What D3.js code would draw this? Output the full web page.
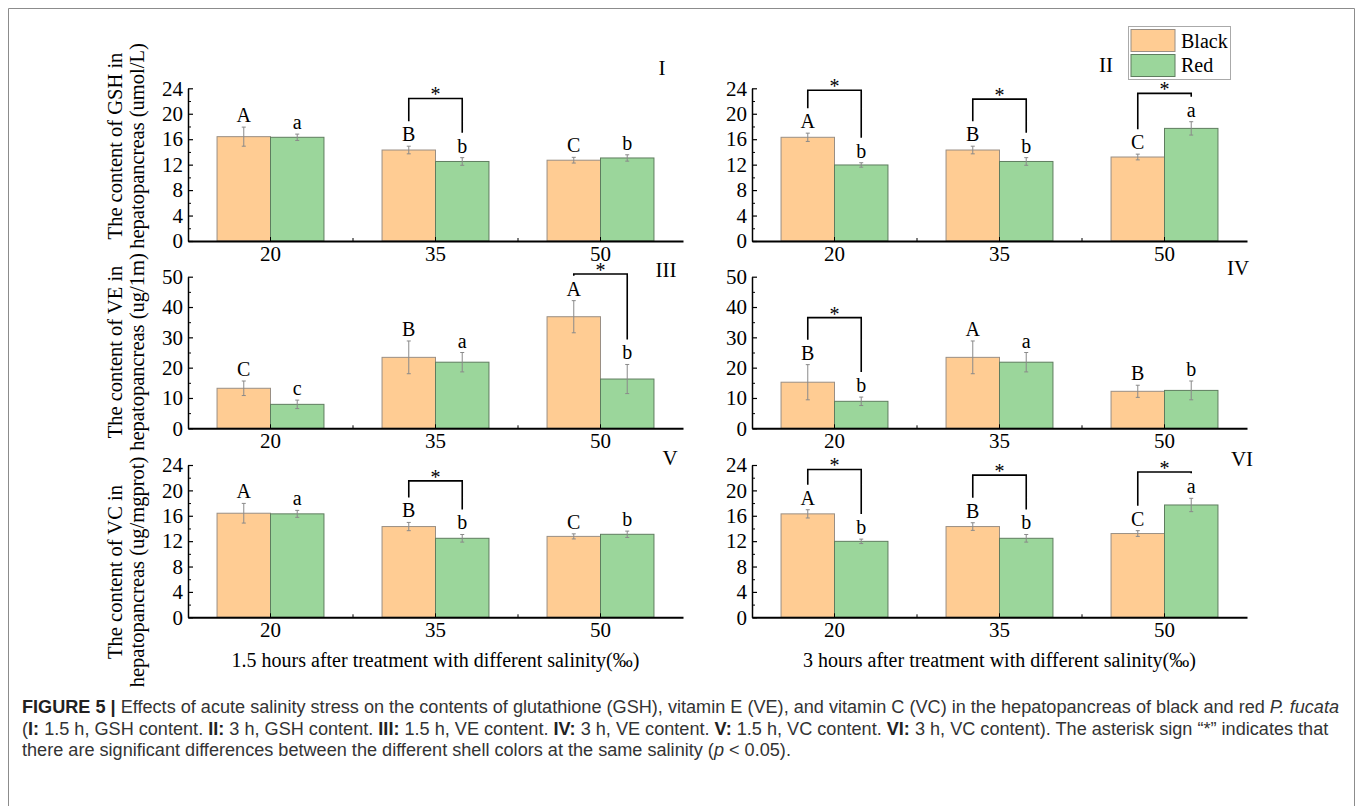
<!DOCTYPE html>
<html><head><meta charset="utf-8">
<script src="https://cdn.jsdelivr.net/npm/d3@7"></script>
<style>body{margin:0;background:#fff}</style>
</head><body>
<svg id="c" width="1358" height="806"></svg>
<script>
// ---------- DATA ----------
const categories = ["20", "35", "50"];
const seriesNames = ["Black", "Red"];
const gshTicks = [0, 4, 8, 12, 16, 20, 24];
const veTicks = [0, 10, 20, 30, 40, 50];

// I: 1.5 h GSH
const gsh15Black = [16.4, 14.3, 12.7];
const gsh15BlackErr = [1.5, 0.6, 0.45];
const gsh15Red = [16.3, 12.5, 13.05];
const gsh15RedErr = [0.5, 0.6, 0.5];
const gsh15BlackLetters = ["A", "B", "C"];
const gsh15RedLetters = ["a", "b", "b"];
const gsh15Sig = [{cat: "35", level: 22.4}];

// II: 3 h GSH
const gsh3Black = [16.3, 14.3, 13.2];
const gsh3BlackErr = [0.65, 0.6, 0.45];
const gsh3Red = [11.95, 12.5, 17.7];
const gsh3RedErr = [0.35, 0.6, 1.05];
const gsh3BlackLetters = ["A", "B", "C"];
const gsh3RedLetters = ["b", "b", "a"];
const gsh3Sig = [{cat: "20", level: 23.7}, {cat: "35", level: 22.3}, {cat: "50", level: 23.2}];

// III: 1.5 h VE
const ve15Black = [13.2, 23.4, 36.8];
const ve15BlackErr = [2.4, 5.4, 5.3];
const ve15Red = [7.9, 21.8, 16.25];
const ve15RedErr = [1.4, 3.2, 4.8];
const ve15BlackLetters = ["C", "B", "A"];
const ve15RedLetters = ["c", "a", "b"];
const ve15Sig = [{cat: "50", level: 50.9}];

// IV: 3 h VE
const ve3Black = [15.2, 23.4, 12.2];
const ve3BlackErr = [5.8, 5.4, 2.0];
const ve3Red = [8.9, 21.8, 12.5];
const ve3RedErr = [1.4, 3.2, 3.1];
const ve3BlackLetters = ["B", "A", "B"];
const ve3RedLetters = ["b", "a", "b"];
const ve3Sig = [{cat: "20", level: 36.5}];

// V: 1.5 h VC
const vc15Black = [16.4, 14.3, 12.75];
const vc15BlackErr = [1.55, 0.65, 0.4];
const vc15Red = [16.3, 12.45, 13.08];
const vc15RedErr = [0.55, 0.6, 0.5];
const vc15BlackLetters = ["A", "B", "C"];
const vc15RedLetters = ["a", "b", "b"];
const vc15Sig = [{cat: "35", level: 21.5}];

// VI: 3 h VC
const vc3Black = [16.3, 14.3, 13.2];
const vc3BlackErr = [0.65, 0.6, 0.45];
const vc3Red = [11.97, 12.45, 17.7];
const vc3RedErr = [0.35, 0.6, 1.05];
const vc3BlackLetters = ["A", "B", "C"];
const vc3RedLetters = ["b", "b", "a"];
const vc3Sig = [{cat: "20", level: 23.3}, {cat: "35", level: 22.4}, {cat: "50", level: 22.9}];

const yTitles = [
  ["The content of GSH in", "hepatopancreas (umol/L)"],
  ["The content of VE in", "hepatopancreas (ug/1m)"],
  ["The content of VC in", "hepatopancreas (ug/mgprot)"]
];
const xTitles = ["1.5 hours after treatment with different salinity(‰)", "3 hours after treatment with different salinity(‰)"];
const panelLabels = ["I", "II", "III", "IV", "V", "VI"];

// ---------- LAYOUT / STYLE ----------
const serif = "'Liberation Serif','Times New Roman',serif";
const sans = "'Liberation Sans',Arial,Helvetica,sans-serif";
const colors = {Black: "#FFCC93", Red: "#9BD69B"};
const strokes = {Black: "#9a8f84", Red: "#5f7d5f"};
const colX = [188, 752];
const plotW = 495;
const rows = [{top: 88.3, bottom: 241, titleC: 146}, {top: 276.7, bottom: 428.3, titleC: 352}, {top: 465, bottom: 617.3, titleC: 572}];
const labelPos = [{x: 662, y: 75}, {x: 1106, y: 72}, {x: 666, y: 277}, {x: 1238, y: 275}, {x: 670, y: 465}, {x: 1242, y: 466}];

const panels = [
  {row: 0, col: 0, max: 24, ticks: gshTicks, vals: {Black: gsh15Black, Red: gsh15Red}, errs: {Black: gsh15BlackErr, Red: gsh15RedErr}, letters: {Black: gsh15BlackLetters, Red: gsh15RedLetters}, sig: gsh15Sig},
  {row: 0, col: 1, max: 24, ticks: gshTicks, vals: {Black: gsh3Black, Red: gsh3Red}, errs: {Black: gsh3BlackErr, Red: gsh3RedErr}, letters: {Black: gsh3BlackLetters, Red: gsh3RedLetters}, sig: gsh3Sig},
  {row: 1, col: 0, max: 50, ticks: veTicks, vals: {Black: ve15Black, Red: ve15Red}, errs: {Black: ve15BlackErr, Red: ve15RedErr}, letters: {Black: ve15BlackLetters, Red: ve15RedLetters}, sig: ve15Sig},
  {row: 1, col: 1, max: 50, ticks: veTicks, vals: {Black: ve3Black, Red: ve3Red}, errs: {Black: ve3BlackErr, Red: ve3RedErr}, letters: {Black: ve3BlackLetters, Red: ve3RedLetters}, sig: ve3Sig},
  {row: 2, col: 0, max: 24, ticks: gshTicks, vals: {Black: vc15Black, Red: vc15Red}, errs: {Black: vc15BlackErr, Red: vc15RedErr}, letters: {Black: vc15BlackLetters, Red: vc15RedLetters}, sig: vc15Sig},
  {row: 2, col: 1, max: 24, ticks: gshTicks, vals: {Black: vc3Black, Red: vc3Red}, errs: {Black: vc3BlackErr, Red: vc3RedErr}, letters: {Black: vc3BlackLetters, Red: vc3RedLetters}, sig: vc3Sig}
];

const svg = d3.select("#c");

// frame
svg.append("path").attr("d", "M8.5,830V8.5H1354.5V830")
  .attr("fill", "none").attr("stroke", "#8c8c8c").attr("stroke-width", 1);

panels.forEach((p, pi) => {
  const r = rows[p.row];
  const x0 = colX[p.col];
  const g = svg.append("g");
  const x = d3.scaleBand().domain(categories).range([x0, x0 + plotW]).paddingInner(0.352).paddingOuter(0.176);
  const xs = d3.scaleBand().domain(seriesNames).range([0, x.bandwidth()]);
  const y = d3.scaleLinear().domain([0, p.max]).range([r.bottom, r.top]);
  const step = p.ticks[1] - p.ticks[0];
  const minor = p.ticks.slice(0, -1).map(t => t + step / 2);
  const cx = (s, i) => x(categories[i]) + xs(s) + xs.bandwidth() / 2;

  // bars
  seriesNames.forEach(s => {
    g.selectAll(null).data(p.vals[s]).enter().append("rect")
      .attr("x", (d, i) => x(categories[i]) + xs(s))
      .attr("y", d => y(d))
      .attr("width", xs.bandwidth())
      .attr("height", d => y(0) - y(d))
      .attr("fill", colors[s]).attr("stroke", strokes[s]).attr("stroke-width", 1);
  });
  // error bars
  seriesNames.forEach(s => {
    const e = p.errs[s];
    p.vals[s].forEach((v, i) => {
      const c = cx(s, i);
      g.append("path")
        .attr("d", `M${c},${y(v - e[i])}V${y(v + e[i])}M${c - 2},${y(v + e[i])}H${c + 2}M${c - 2},${y(v - e[i])}H${c + 2}`)
        .attr("stroke", "#8a8a8a").attr("stroke-width", 1).attr("fill", "none");
    });
  });
  // letters
  const letterBase = {};
  seriesNames.forEach(s => {
    letterBase[s] = p.vals[s].map((v, i) => y(v + p.errs[s][i]) - 5);
    g.selectAll(null).data(p.letters[s]).enter().append("text")
      .attr("x", (d, i) => cx(s, i))
      .attr("y", (d, i) => letterBase[s][i])
      .attr("text-anchor", "middle")
      .attr("font-family", serif).attr("font-size", 20).attr("fill", "#000")
      .text(d => d);
  });
  // significance brackets
  p.sig.forEach(sg => {
    const i = categories.indexOf(sg.cat);
    const xl = cx("Black", i), xr = cx("Red", i);
    const top = y(sg.level);
    const lb = Math.max(top, letterBase.Black[i] - 20);
    const rb = Math.max(top, letterBase.Red[i] - 20);
    g.append("path").attr("d", `M${xl},${lb}V${top}H${xr}V${rb}`)
      .attr("fill", "none").attr("stroke", "#000").attr("stroke-width", 1.6);
    g.append("text").attr("x", (xl + xr) / 2).attr("y", top + 3)
      .attr("text-anchor", "middle").attr("font-family", serif).attr("font-size", 20).text("*");
  });

  // y axis
  const ya = g.append("g").attr("transform", `translate(${x0},0)`)
    .call(d3.axisLeft(y).tickValues(p.ticks).tickSizeInner(-5).tickSizeOuter(0).tickPadding(5).tickFormat(d3.format("d")));
  ya.select(".domain").attr("stroke-width", 1.5);
  ya.selectAll("text").attr("font-family", serif).attr("font-size", 21).attr("fill", "#000");
  ya.selectAll(".tick line").attr("stroke-width", 1.2);
  g.append("g").attr("transform", `translate(${x0},0)`)
    .call(d3.axisLeft(y).tickValues(minor).tickSizeInner(-3).tickSizeOuter(0).tickFormat(""))
    .call(a => a.select(".domain").remove());

  // x axis
  const xa = g.append("g").attr("transform", `translate(0,${r.bottom})`)
    .call(d3.axisBottom(x).tickSizeInner(-4).tickSizeOuter(0).tickPadding(5));
  xa.select(".domain").attr("stroke-width", 2);
  xa.selectAll("text").attr("font-family", serif).attr("font-size", 21).attr("fill", "#000");
  // boundary ticks between categories
  const bounds = categories.slice(1).map(c => x(c) - x.step() * x.paddingInner() / 2);
  g.selectAll(null).data(bounds).enter().append("line")
    .attr("x1", d => d).attr("x2", d => d).attr("y1", r.bottom).attr("y2", r.bottom - 3)
    .attr("stroke", "#000").attr("stroke-width", 1);

  // panel label
  g.append("text").attr("x", labelPos[pi].x).attr("y", labelPos[pi].y)
    .attr("text-anchor", "middle").attr("font-family", serif).attr("font-size", 21).text(panelLabels[pi]);
});

// y titles
rows.forEach((r, ri) => {
  [122, 144].forEach((bx, li) => {
    svg.append("text").attr("transform", `translate(${bx},${r.titleC}) rotate(-90)`)
      .attr("text-anchor", "middle").attr("font-family", serif).attr("font-size", 20.5)
      .text(yTitles[ri][li]);
  });
});
// x titles
xTitles.forEach((t, ci) => {
  svg.append("text").attr("x", colX[ci] + plotW / 2).attr("y", 667)
    .attr("text-anchor", "middle").attr("font-family", serif).attr("font-size", 20).text(t);
});

// legend
const lg = svg.append("g");
lg.append("rect").attr("x", 1128.5).attr("y", 26.5).attr("width", 102).attr("height", 53)
  .attr("fill", "#fff").attr("stroke", "#aaa").attr("stroke-width", 1);
seriesNames.forEach((s, i) => {
  lg.append("rect").attr("x", 1131).attr("y", 29.5 + i * 25).attr("width", 44).attr("height", 22)
    .attr("fill", colors[s]).attr("stroke", strokes[s]).attr("stroke-width", 1);
  lg.append("text").attr("x", 1181).attr("y", 47.5 + i * 24.5).attr("font-family", serif).attr("font-size", 20).text(s);
});

// caption
const capLines = [
  [["FIGURE 5 |", "b"], [" Effects of acute salinity stress on the contents of glutathione (GSH), vitamin E (VE), and vitamin C (VC) in the hepatopancreas of black and red ", ""], ["P. fucata", "i"]],
  [["(", ""], ["I:", "b"], [" 1.5 h, GSH content. ", ""], ["II:", "b"], [" 3 h, GSH content. ", ""], ["III:", "b"], [" 1.5 h, VE content. ", ""], ["IV:", "b"], [" 3 h, VE content. ", ""], ["V:", "b"], [" 1.5 h, VC content. ", ""], ["VI:", "b"], [" 3 h, VC content). The asterisk sign \u201c*\u201d indicates that", ""]],
  [["there are significant differences between the different shell colors at the same salinity (", ""], ["p", "i"], [" < 0.05).", ""]]
];
const capY = [713, 735, 756];
const capTexts = capLines.map((ln, li) => {
  const t = svg.append("text").attr("x", 22).attr("y", capY[li]).attr("font-family", sans)
    .attr("font-size", 15).attr("fill", "#333").attr("xml:space", "preserve");
  ln.forEach(([str, st]) => {
    const ts = t.append("tspan").text(str);
    if (st === "b") ts.attr("font-weight", "bold").attr("fill", "#222");
    if (st === "i") ts.attr("font-style", "italic");
  });
  return t;
});
const w1 = capTexts[0].node().getComputedTextLength();
const fs = 15 * 1318 / w1;
capTexts.forEach(t => t.attr("font-size", fs));
</script></body></html>
